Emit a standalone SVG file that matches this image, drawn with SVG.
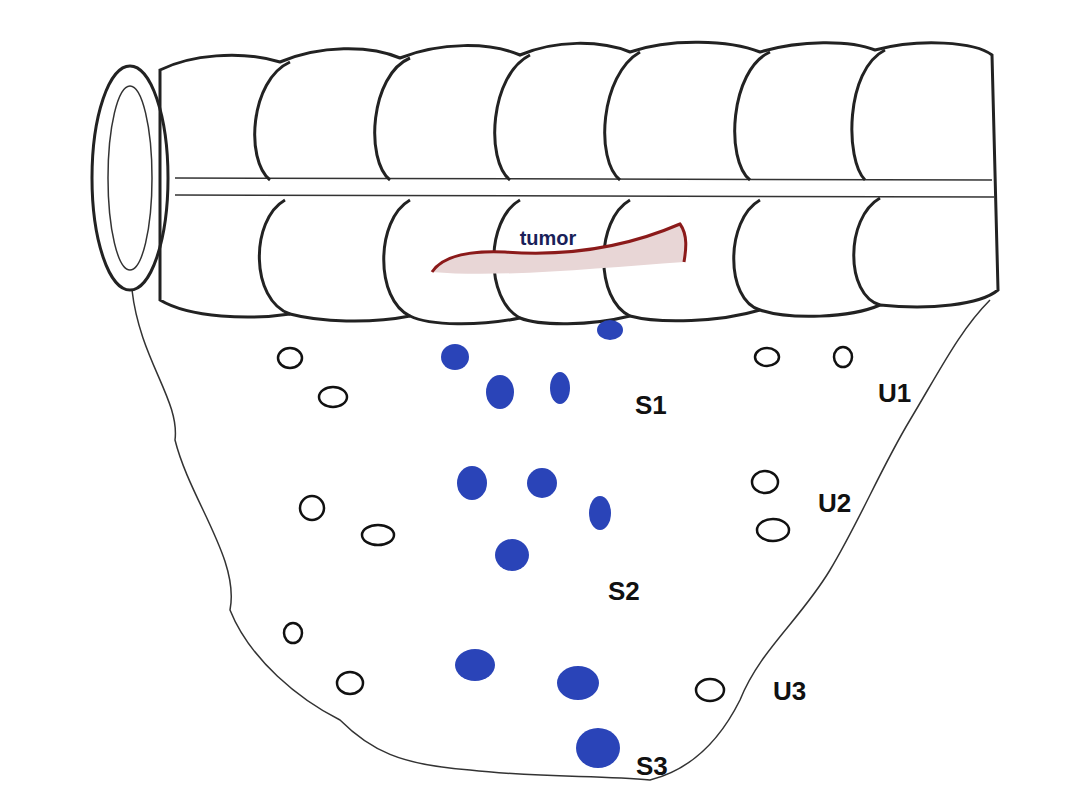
<svg xmlns="http://www.w3.org/2000/svg" width="1065" height="800" viewBox="0 0 1065 800">
<style>
.o{fill:none;stroke:#222;stroke-width:3}
.t{fill:none;stroke:#333;stroke-width:1.5}
.b{fill:#2a44b8}
.w{fill:#fff;stroke:#111;stroke-width:2.5}
.l{font-family:"Liberation Sans",Arial,sans-serif;font-weight:bold;font-size:26px;fill:#111}
</style>
<rect width="1065" height="800" fill="#fff"/>
<g id="mesentery">
<path class="t" d="M132,290 C140,360 180,400 175,440 C190,500 240,560 230,610 C250,660 300,700 340,720 C370,750 400,765 470,770 C540,778 600,775 650,780 C690,770 720,740 740,700 C760,650 800,620 830,570 C860,520 880,470 910,420 C940,370 960,330 990,300"/>
</g>
<g id="colon">
<path class="o" d="M160,70 C190,55 240,50 280,62 C320,45 370,45 400,58 C440,42 490,42 520,55 C555,40 600,40 630,52 C670,38 730,40 760,52 C800,40 850,40 875,50 C920,38 975,42 992,55 L998,290 C980,305 930,310 880,305 C850,318 790,320 760,310 C720,322 660,324 630,316 C590,326 540,326 520,318 C480,326 430,326 410,316 C370,324 320,322 290,314 C250,320 190,318 160,300 Z"/>
<path class="t" d="M175,178 L992,180 M175,195 L994,197"/>
<path class="o" d="M290,62 C250,80 245,160 270,180 M410,58 C370,75 365,160 390,180 M530,55 C490,75 485,160 510,180 M640,52 C600,75 595,160 620,180 M770,52 C730,70 725,160 750,180 M885,50 C845,70 845,160 865,180"/>
<path class="o" d="M285,200 C250,220 250,300 290,314 M410,200 C375,220 375,300 410,316 M520,200 C485,220 485,300 520,318 M630,200 C595,220 595,300 630,316 M760,200 C725,220 725,300 760,310 M880,198 C845,218 845,295 880,305"/>
<ellipse class="o" cx="130" cy="178" rx="38" ry="112" fill="#fff"/>
<ellipse class="t" cx="130" cy="178" rx="22" ry="92"/>
</g>
<g id="tumor">
<path d="M432,272 C440,260 460,250 505,252 C560,256 620,250 680,224 C688,235 686,250 684,262 C600,268 500,278 432,272Z" fill="#e8d6d6" stroke="none"/>
<path d="M432,272 C440,260 460,250 505,252 C560,256 620,250 680,224 C688,235 686,250 684,262" fill="none" stroke="#8b1a1a" stroke-width="3"/>
<text x="548" y="245" text-anchor="middle" font-family="Liberation Sans,Arial,sans-serif" font-weight="bold" font-size="20" fill="#1a1f5a">tumor</text>
</g>
<g id="nodes">
<ellipse class="b" cx="455" cy="357" rx="14" ry="13"/>
<ellipse class="b" cx="500" cy="392" rx="14" ry="17"/>
<ellipse class="b" cx="560" cy="388" rx="10" ry="16"/>
<ellipse class="b" cx="610" cy="330" rx="13" ry="10"/>
<ellipse class="b" cx="472" cy="483" rx="15" ry="17"/>
<ellipse class="b" cx="542" cy="483" rx="15" ry="15"/>
<ellipse class="b" cx="600" cy="513" rx="11" ry="17"/>
<ellipse class="b" cx="512" cy="555" rx="17" ry="16"/>
<ellipse class="b" cx="475" cy="665" rx="20" ry="16"/>
<ellipse class="b" cx="578" cy="683" rx="21" ry="17"/>
<ellipse class="b" cx="598" cy="748" rx="22" ry="20"/>
<ellipse class="w" cx="290" cy="358" rx="12" ry="10"/>
<ellipse class="w" cx="333" cy="397" rx="14" ry="10"/>
<ellipse class="w" cx="312" cy="508" rx="12" ry="12"/>
<ellipse class="w" cx="378" cy="535" rx="16" ry="10"/>
<ellipse class="w" cx="293" cy="633" rx="9" ry="10"/>
<ellipse class="w" cx="350" cy="683" rx="13" ry="11"/>
<ellipse class="w" cx="767" cy="357" rx="12" ry="9"/>
<ellipse class="w" cx="843" cy="357" rx="9" ry="10"/>
<ellipse class="w" cx="765" cy="482" rx="13" ry="11"/>
<ellipse class="w" cx="773" cy="530" rx="16" ry="11"/>
<ellipse class="w" cx="710" cy="690" rx="14" ry="11"/>
</g>
<g id="labels">
<text class="l" x="635" y="414">S1</text>
<text class="l" x="878" y="402">U1</text>
<text class="l" x="818" y="512">U2</text>
<text class="l" x="608" y="600">S2</text>
<text class="l" x="773" y="700">U3</text>
<text class="l" x="636" y="775">S3</text>
</g>
</svg>
